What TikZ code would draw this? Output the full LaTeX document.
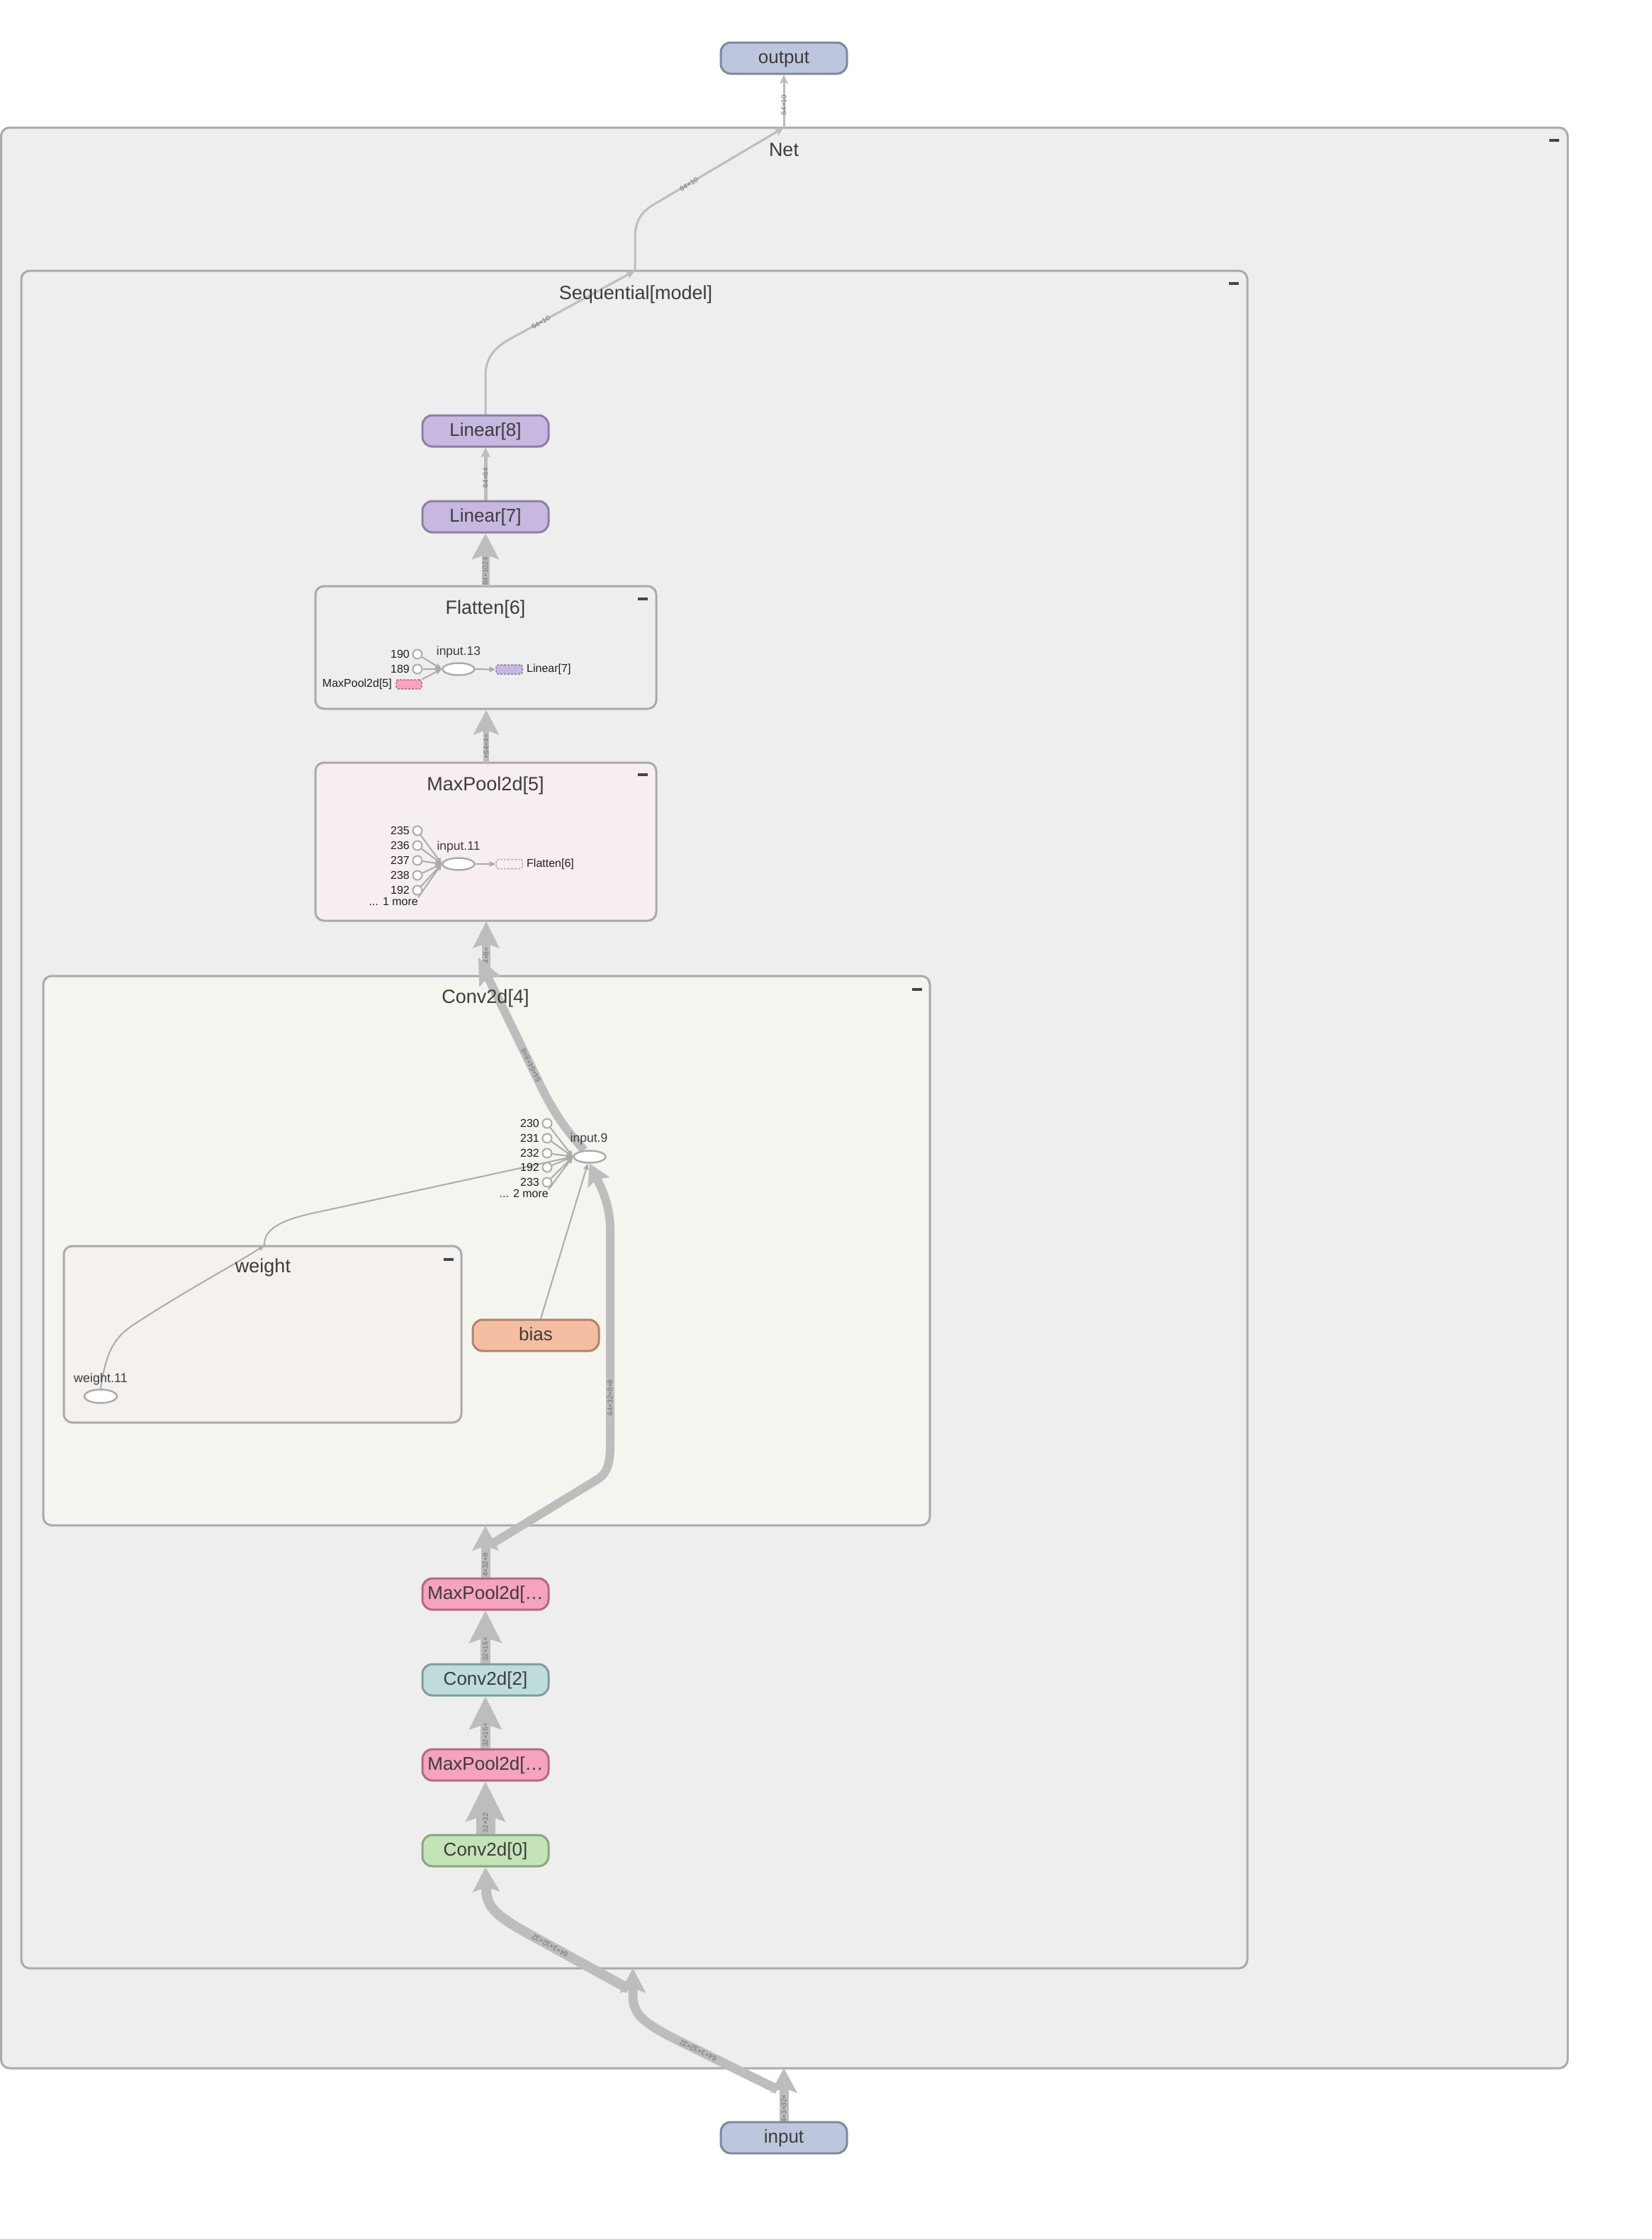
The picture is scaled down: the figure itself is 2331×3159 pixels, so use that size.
\documentclass[tikz,border=0pt]{standalone}
\usepackage{fontspec}
\setmainfont{Liberation Sans}
\usetikzlibrary{arrows.meta,shapes.geometric}
\pgfdeclarelayer{bglayer}
\pgfdeclarelayer{edgelayer}
\pgfsetlayers{bglayer,edgelayer,main}
\newcommand\myfs[1]{\fontsize{#1}{#1}\selectfont}
\definecolor{netbg}{HTML}{EEEEEE}
\definecolor{clborder}{HTML}{AAAAAA}
\definecolor{mpclus}{HTML}{F7EEF1}
\definecolor{convclus}{HTML}{F5F4EF}
\definecolor{wclus}{HTML}{F5F1EE}
\definecolor{iofill}{HTML}{BCC6DD}
\definecolor{ioline}{HTML}{7F889E}
\definecolor{linfill}{HTML}{C7B8E2}
\definecolor{linline}{HTML}{8D7EA3}
\definecolor{mpfill}{HTML}{F5A3BE}
\definecolor{mpline}{HTML}{B26A82}
\definecolor{cbfill}{HTML}{BEDCDC}
\definecolor{cbline}{HTML}{809C9C}
\definecolor{cafill}{HTML}{C5E3B8}
\definecolor{caline}{HTML}{8BA57F}
\definecolor{biasfill}{HTML}{F5BEA2}
\definecolor{biasline}{HTML}{B0836C}
\definecolor{edgec}{HTML}{BDBDBD}
\definecolor{elab}{HTML}{707070}
\definecolor{txt}{HTML}{3C3C3C}
\definecolor{inner}{HTML}{ABABAB}
\definecolor{minus}{HTML}{444444}
\tikzset{
 cluster/.style={draw=clborder, line width=3pt, rounded corners=12pt},
 cltitle/.style={text=txt, font=\myfs{27}, anchor=base, inner sep=0pt},
 collapse/.style={draw=minus, line width=3.5pt},
 opnode/.style={rectangle, rounded corners=14pt, line width=3pt, minimum width=178pt, minimum height=44pt, inner sep=0pt, text=txt, font=\myfs{26}, text height=20pt, text depth=5pt},
 gedge/.style n args={4}{draw=edgec, line width=#1pt, -{Stealth[length=#2pt,width=#3pt,inset=#4pt,line width=0pt]}},
 elabel/.style={text=elab, font=\myfs{10}, inner sep=0pt},
 inedge/.style={draw=inner, line width=2pt, -{Stealth[length=9pt,width=8pt,inset=1pt,line width=0pt]}},
 portc/.style={circle, draw=inner, line width=2pt, fill=white, minimum size=13pt, inner sep=0pt},
 opell/.style={ellipse, draw=inner, line width=2.5pt, fill=white, minimum width=45pt, minimum height=17pt, inner sep=0pt},
 smalltxt/.style={text=black!88, font=\myfs{16}, inner sep=0pt},
 optxt/.style={text=txt, font=\myfs{17.5}, inner sep=0pt},
 dashbox/.style={rectangle, rounded corners=3pt, line width=1.5pt, dash pattern=on 3pt off 2pt, minimum width=36pt, minimum height=13pt, inner sep=0pt},
}
\begin{document}
\begin{tikzpicture}[x=1pt,y=-1pt]
\useasboundingbox (0,0) rectangle (2331,3159);
\begin{pgfonlayer}{bglayer}
\fill[white] (0,0) rectangle (2331,3159);
\draw[cluster, fill=netbg] (1.5,180) rectangle (2212,2918);
\draw[cluster, fill=netbg] (30,382) rectangle (1760,2777);
\draw[cluster, fill=netbg] (445,827) rectangle (926,1000);
\draw[cluster, fill=mpclus] (445,1076) rectangle (926,1299);
\draw[cluster, fill=convclus] (61,1377) rectangle (1312,2152);
\draw[cluster, fill=wclus] (90,1758) rectangle (651,2007);
\end{pgfonlayer}

% cluster titles and collapse marks
\node[cltitle] (tNet) at (1106,220) {Net};
\node[cltitle] (tSeq) at (897,422) {Sequential[model]};
\node[cltitle] (tFlat) at (685,866) {Flatten[6]};
\node[cltitle] (tMP) at (685,1115) {MaxPool2d[5]};
\node[cltitle] (tConv) at (685,1415) {Conv2d[4]};
\node[cltitle] (tW) at (371,1795) {weight};
\foreach \mx/\my in {2193/198, 1741/400, 907/845, 907/1093, 1294/1396, 633/1777}
  \draw[collapse] (\mx-7,\my) -- (\mx+7,\my);

% op nodes
\node[opnode, fill=iofill, draw=ioline] (output) at (1106,82) {output};
\node[opnode, fill=iofill, draw=ioline] (input) at (1106,3016) {input};
\node[opnode, fill=linfill, draw=linline] (lin8) at (685,608) {Linear[8]};
\node[opnode, fill=linfill, draw=linline] (lin7) at (685,729) {Linear[7]};
\node[opnode, fill=mpfill, draw=mpline] (mpU) at (685,2249) {MaxPool2d[…};
\node[opnode, fill=cbfill, draw=cbline] (conv2) at (685,2370) {Conv2d[2]};
\node[opnode, fill=mpfill, draw=mpline] (mpL) at (685,2490) {MaxPool2d[…};
\node[opnode, fill=cafill, draw=caline] (conv0) at (685,2611) {Conv2d[0]};
\node[opnode, fill=biasfill, draw=biasline] (bias) at (756,1884) {bias};

% ports on cluster borders
\coordinate (netTop) at (1106,180);
\coordinate (netBot) at (1106,2918);
\coordinate (netBotB) at (1097,2948);
\coordinate (seqTop) at (896,382);
\coordinate (seqBot) at (893,2777);
\coordinate (seqBotB) at (887,2806);
\coordinate (flatTop) at (685,827);
\coordinate (flatBot) at (686,1002);
\coordinate (mpTop) at (686,1076);
\coordinate (mpBot) at (686,1300);
\coordinate (convTop) at (686,1377);
\coordinate (convOut) at (675,1351);
\coordinate (convBot) at (685,2153);
\coordinate (convBotB) at (691,2180);
\coordinate (wTop) at (373,1757);

% Flatten inner
\node[portc] (f190) at (589,923) {};
\node[portc] (f189) at (589,944) {};
\node[dashbox, fill=mpfill, draw=mpline] (fmp) at (577,965.5) {};
\node[opell] (in13) at (647,944) {};
\node[dashbox, fill=linfill, draw=linline, minimum width=37pt] (flin) at (718.5,944.5) {};
\node[smalltxt, anchor=east] (l190) at (578,923) {190};
\node[smalltxt, anchor=east] (l189) at (578,944) {189};
\node[smalltxt, anchor=east] (lfmp) at (553,965.5) {MaxPool2d[5]};
\node[optxt] (lin13) at (647,920) {input.13};
\node[smalltxt, anchor=west] (lflin) at (743,944.5) {Linear[7]};

% MaxPool2d[5] inner
\node[portc] (m235) at (589,1172) {};
\node[portc] (m236) at (589,1193) {};
\node[portc] (m237) at (589,1214) {};
\node[portc] (m238) at (589,1235) {};
\node[portc] (m192) at (589,1256) {};
\node[smalltxt, anchor=east] (l235) at (578,1172) {235};
\node[smalltxt, anchor=east] (l236) at (578,1193) {236};
\node[smalltxt, anchor=east] (l237) at (578,1214) {237};
\node[smalltxt, anchor=east] (l238) at (578,1235) {238};
\node[smalltxt, anchor=east] (l192m) at (578,1256) {192};
\node[smalltxt, anchor=east] (mmore) at (590,1272) {... 1 more};
\node[opell] (in11) at (647,1219) {};
\node[optxt] (lin11) at (647,1195) {input.11};
\node[dashbox, draw=inner, fill=mpclus, minimum width=37pt] (mflat) at (718.5,1219) {};
\node[smalltxt, anchor=west] (lmflat) at (743,1219) {Flatten[6]};

% Conv2d[4] inner
\node[portc] (c230) at (772,1585) {};
\node[portc] (c231) at (772,1606) {};
\node[portc] (c232) at (772,1627) {};
\node[portc] (c192) at (772,1647) {};
\node[portc] (c233) at (772,1668) {};
\node[smalltxt, anchor=east] (l230) at (761,1585) {230};
\node[smalltxt, anchor=east] (l231) at (761,1606) {231};
\node[smalltxt, anchor=east] (l232) at (761,1627) {232};
\node[smalltxt, anchor=east] (l192c) at (761,1647) {192};
\node[smalltxt, anchor=east] (l233) at (761,1668) {233};
\node[smalltxt, anchor=east] (cmore) at (774,1684) {... 2 more};
\node[opell] (in9) at (832,1632) {};
\node[optxt] (lin9) at (831,1607) {input.9};
\node[opell, minimum width=46pt, minimum height=19pt] (w11) at (142,1970) {};
\node[optxt, font=\myfs{18}] (lw11) at (142,1946) {weight.11};

\begin{pgfonlayer}{edgelayer}
% main edges
\draw[gedge={3}{13}{12}{3}] (netTop) -- (output.south);
\draw[gedge={3}{13}{12}{3}] (seqTop) -- (896,335) .. controls (896,312) and (905,298) .. (925,287) -- (netTop);
\draw[gedge={3}{13}{12}{3}] (lin8.north) -- (685,530) .. controls (685,505) and (698,490) .. (720,478) -- (seqTop);
\draw[gedge={5}{14}{14}{3}] (lin7.north) -- (lin8.south);
\draw[gedge={11}{37}{39}{7}] (flatTop) -- (lin7.south);
\draw[gedge={8}{35}{37}{7}] (mpTop) -- (flatBot);
\draw[gedge={12}{38}{38}{7}] (convTop) -- (mpBot);
\draw[gedge={12}{38}{34}{7}] (in9.130) .. controls (795,1590) and (780,1567) .. (762,1530) -- (convOut);
\draw[gedge={13}{35}{38}{7}] (mpU.north) -- (convBot);
\draw[gedge={12}{30}{35}{6}] (convBotB) -- (845,2086) .. controls (857,2078) and (861,2062) .. (861,2040) -- (861,1735) .. controls (861,1700) and (848,1675) .. (in9.south);
\draw[gedge={14}{46}{47}{8}] (conv2.north) -- (mpU.south);
\draw[gedge={14}{47}{47}{8}] (mpL.north) -- (conv2.south);
\draw[gedge={27}{57}{57}{10}] (conv0.north) -- (mpL.south);
\draw[gedge={14}{35}{39}{7}] (seqBotB) -- (745,2728) .. controls (700,2703) and (686,2690) .. (686,2665) -- (conv0.south);
\draw[gedge={13}{35}{37}{7}] (netBotB) -- (955,2878) .. controls (905,2853) and (893,2840) .. (893,2815) -- (seqBot);
\draw[gedge={13}{35}{38}{7}] (input.north) -- (netBot);
% inner edges
\draw[inedge] (f190) -- (in13.west);
\draw[inedge] (f189) -- (in13.west);
\draw[inedge] (fmp.north east) -- (in13.west);
\draw[inedge] (in13.east) -- (flin.west);
\foreach \p in {m235,m236,m237,m238,m192} \draw[inedge] (\p) -- (in11.west);
\draw[inedge] (mmore.north east) -- (in11.west);
\draw[inedge] (in11.east) -- (mflat.west);
\foreach \p in {c230,c231,c232,c192,c233} \draw[inedge] (\p) -- (in9.west);
\draw[inedge] (cmore.north east) -- (in9.west);
\draw[inedge] (w11.north) .. controls (150,1905) and (162,1886) .. (190,1868) .. controls (260,1822) and (330,1785) .. (wTop);
\draw[inedge] (wTop) .. controls (372,1735) and (395,1722) .. (440,1712) -- (in9.west);
\draw[inedge] ([xshift=7pt]bias.north) -- (in9.-105);
% edge labels
\node[elabel, rotate=90] (e1) at (1106,148) {64×10};
\node[elabel, rotate=30] (e2) at (972,260) {64×10};
\node[elabel, rotate=29] (e3) at (763,455) {64×10};
\node[elabel, rotate=90] (e4) at (685,674) {64×64};
\node[elabel, rotate=90] (e5) at (685,806) {64×1024};
\node[elabel, rotate=90] (e6) at (686,1053) {×64×4×};
\node[elabel, rotate=90] (e7) at (686,1348) {4×8×};
\node[elabel, rotate=116] (e8) at (749,1503) {64×64×8×8};
\node[elabel, rotate=90] (e9) at (861,1972) {64×32×8×8};
\node[elabel, rotate=90] (e10) at (685,2208) {4×32×8};
\node[elabel, rotate=90] (e11) at (685,2327) {32×16×};
\node[elabel, rotate=90] (e12) at (685,2448) {32×16×};
\node[elabel, rotate=90] (e13) at (685,2572) {32×32};
\node[elabel, rotate=151] (e14) at (776,2745) {64×3×32×32};
\node[elabel, rotate=154] (e15) at (985,2893) {64×3×32×32};
\node[elabel, rotate=90] (e16) at (1106,2975) {4×3×32×};
\end{pgfonlayer}
\end{tikzpicture}
\end{document}
